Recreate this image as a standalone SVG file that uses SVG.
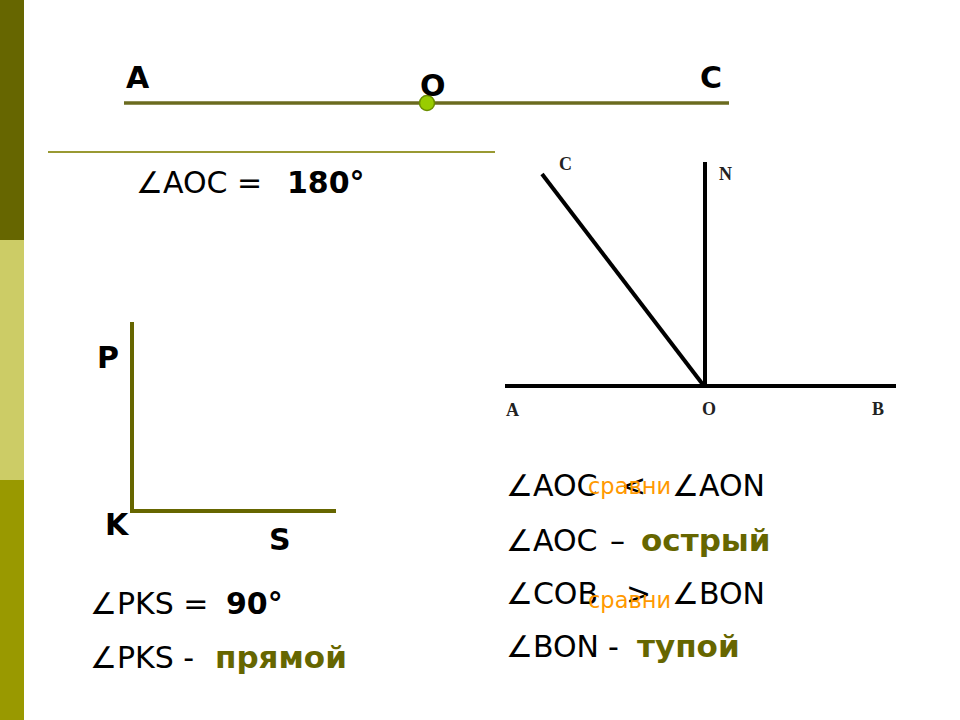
<svg xmlns="http://www.w3.org/2000/svg" width="960" height="720" viewBox="0 0 960 720">
<style>
.t{font-family:"DejaVu Sans",Verdana,sans-serif;font-size:30px;fill:#000}
.b{font-weight:bold}
.ol{fill:#666600;font-weight:bold;font-size:31px}
.or{font-family:"DejaVu Sans",sans-serif;font-size:22.5px;fill:#ff9900}
.s{font-family:"Liberation Serif","Times New Roman",serif;font-weight:bold;font-size:18px;fill:#222}
.ln{stroke:#666600;stroke-width:3.5;fill:none}
.bk{stroke:#000;stroke-width:4;fill:none}
</style>
<rect width="960" height="720" fill="#fff"/>
<g id="sidebar">
<rect x="0" y="0" width="24" height="240" fill="#666600"/>
<rect x="0" y="240" width="24" height="240" fill="#cccc66"/>
<rect x="0" y="480" width="24" height="240" fill="#999900"/>
</g>
<g id="straight-angle">
<line class="ln" x1="124" y1="103" x2="729" y2="103" style="stroke:#6b6b1f"/>
<circle cx="427" cy="103" r="7.5" fill="#99cc00" stroke="#6b8e00" stroke-width="1.5"/>
<text class="t b" x="126" y="88">A</text>
<text class="t b" x="420" y="96">O</text>
<text class="t b" x="700" y="88">C</text>
<line x1="48" y1="152" x2="495" y2="152" stroke="#999933" stroke-width="2"/>
<text class="t" x="136" y="193">∠AOC = <tspan class="b" x="287">180°</tspan></text>
</g>
<g id="right-angle">
<polyline class="ln" points="132,322 132,511 336,511" style="stroke-width:4"/>
<text class="t b" x="97" y="368">P</text>
<text class="t b" x="105" y="535">K</text>
<text class="t b" x="269" y="550">S</text>
<text class="t" x="90" y="614">∠PKS = <tspan class="b" x="226">90°</tspan></text>
<text class="t" x="90" y="668">∠PKS - <tspan class="ol" x="215">прямой</tspan></text>
</g>
<g id="angles-figure">
<line class="bk" x1="505" y1="386" x2="896" y2="386"/>
<line class="bk" x1="705" y1="162" x2="705" y2="386"/>
<line class="bk" x1="542" y1="174" x2="704" y2="386"/>
<text class="s" x="559" y="170">C</text>
<text class="s" x="719" y="180">N</text>
<text class="s" x="506" y="416">A</text>
<text class="s" x="702" y="415">O</text>
<text class="s" x="872" y="415">B</text>
</g>
<g id="comparisons">
<text class="t" x="506" y="496">∠AOC</text>
<text class="t" x="621" y="496">&lt;</text>
<text class="or" x="588" y="494">сравни</text>
<text class="t" x="672" y="496">∠AON</text>
<text class="t" x="506" y="551">∠AOC <tspan x="610">–</tspan> <tspan class="ol" x="641">острый</tspan></text>
<text class="t" x="506" y="604">∠COB</text>
<text class="t" x="626" y="604">&gt;</text>
<text class="or" x="588" y="608">сравни</text>
<text class="t" x="672" y="604">∠BON</text>
<text class="t" x="506" y="657">∠BON <tspan x="608">-</tspan> <tspan class="ol" x="637">тупой</tspan></text>
</g>
</svg>
